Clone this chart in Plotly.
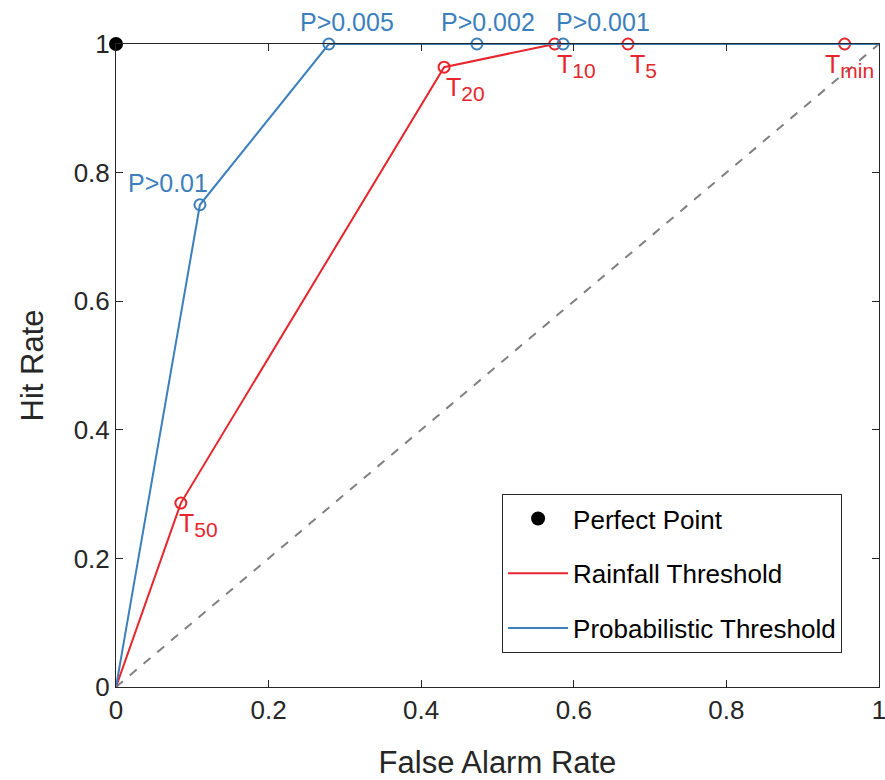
import plotly.graph_objects as go

# ---- data ----
rain_far = [0.0, 0.085, 0.430, 0.575, 0.671, 0.955, 1.0]
rain_hr = [0.0, 0.286, 0.964, 1.0, 1.0, 1.0, 1.0]
rain_subs = ["", "50", "20", "10", "5", "min", ""]

prob_far = [0.0, 0.110, 0.279, 0.473, 0.586, 1.0]
prob_hr = [0.0, 0.750, 1.0, 1.0, 1.0, 1.0]
prob_labels = ["", "P>0.01", "P>0.005", "P>0.002", "P>0.001", ""]

perfect_far = [0.0]
perfect_hr = [1.0]

diag = [0.0, 1.0]

tick_vals = [0, 0.2, 0.4, 0.6, 0.8, 1]
tick_text = ["0", "0.2", "0.4", "0.6", "0.8", "1"]

RED = "#E6262C"
BLUE = "#3C7FBD"
FONT = "Liberation Sans, Arial, sans-serif"
AX = "#262626"

fig = go.Figure()

fig.add_trace(go.Scatter(x=diag, y=diag, mode="lines",
                         line=dict(color="#808080", width=2, dash="dash"),
                         showlegend=False, hoverinfo="skip"))

fig.add_trace(go.Scatter(x=perfect_far, y=perfect_hr, mode="markers",
                         marker=dict(color="black", size=14),
                         name="Perfect Point", legendgroup="a", cliponaxis=False))

fig.add_trace(go.Scatter(x=rain_far, y=rain_hr, mode="lines",
                         line=dict(color=RED, width=2),
                         name="Rainfall Threshold", legendgroup="b"))
fig.add_trace(go.Scatter(x=rain_far[1:-1], y=rain_hr[1:-1], mode="markers",
                         marker=dict(symbol="circle-open", color=RED, size=11,
                                     line=dict(width=2, color=RED)),
                         showlegend=False, cliponaxis=False))

fig.add_trace(go.Scatter(x=prob_far, y=prob_hr, mode="lines",
                         line=dict(color=BLUE, width=2),
                         name="Probabilistic Threshold", legendgroup="c",
                         cliponaxis=False))
fig.add_trace(go.Scatter(x=prob_far[1:-1], y=prob_hr[1:-1], mode="markers",
                         marker=dict(symbol="circle-open", color=BLUE, size=11,
                                     line=dict(width=2, color=BLUE)),
                         showlegend=False, cliponaxis=False))

# label offsets (layout only)
rain_shift = {1: (-4, -4), 2: (0, -4), 3: (0, -4), 4: (0, -4), 5: (-22, -4)}
for i, sub in enumerate(rain_subs):
    if not sub:
        continue
    dx, dy = rain_shift[i]
    lab = "T<sub><span style='font-size:21px'>" + sub + "</span></sub>"
    fig.add_annotation(x=rain_far[i], y=rain_hr[i], text=lab, showarrow=False,
                       xanchor="left", yanchor="top", xshift=dx, yshift=dy,
                       font=dict(family=FONT, size=25, color=RED))

prob_shift = {1: (-32, 6), 2: (18, 6), 3: (11, 6), 4: (40, 6)}
for i, lab in enumerate(prob_labels):
    if not lab:
        continue
    dx, dy = prob_shift[i]
    fig.add_annotation(x=prob_far[i], y=prob_hr[i], text=lab, showarrow=False,
                       xanchor="center", yanchor="bottom", xshift=dx, yshift=dy,
                       font=dict(family=FONT, size=25, color=BLUE))

axis_common = dict(range=[0, 1], tickvals=tick_vals, ticktext=tick_text,
                   ticks="inside", ticklen=7, tickcolor=AX,
                   showline=True, linecolor=AX, linewidth=1,
                   mirror="ticks", showgrid=False, zeroline=False,
                   ticklabeloverflow="allow",
                   tickfont=dict(family=FONT, size=26, color=AX))

fig.update_xaxes(**axis_common,
                 title=dict(text="False Alarm Rate", standoff=38,
                            font=dict(family=FONT, size=31, color=AX)))
fig.update_yaxes(**axis_common,
                 title=dict(text="Hit Rate", standoff=20,
                            font=dict(family=FONT, size=31, color=AX)))

fig.update_layout(
    width=885, height=780,
    margin=dict(l=116, r=6, t=44, b=93, autoexpand=False),
    plot_bgcolor="white", paper_bgcolor="white",
    font=dict(family=FONT),
    legend=dict(x=0.506, y=0.300, xanchor="left", yanchor="top",
                bordercolor=AX, borderwidth=1, bgcolor="white",
                font=dict(family=FONT, size=26, color="black"),
                itemwidth=60, tracegroupgap=18),
)

fig.write_html("out.html",
               config={"displayModeBar": False},
               post_script="document.body.style.margin='0';document.body.style.overflow='hidden';")
